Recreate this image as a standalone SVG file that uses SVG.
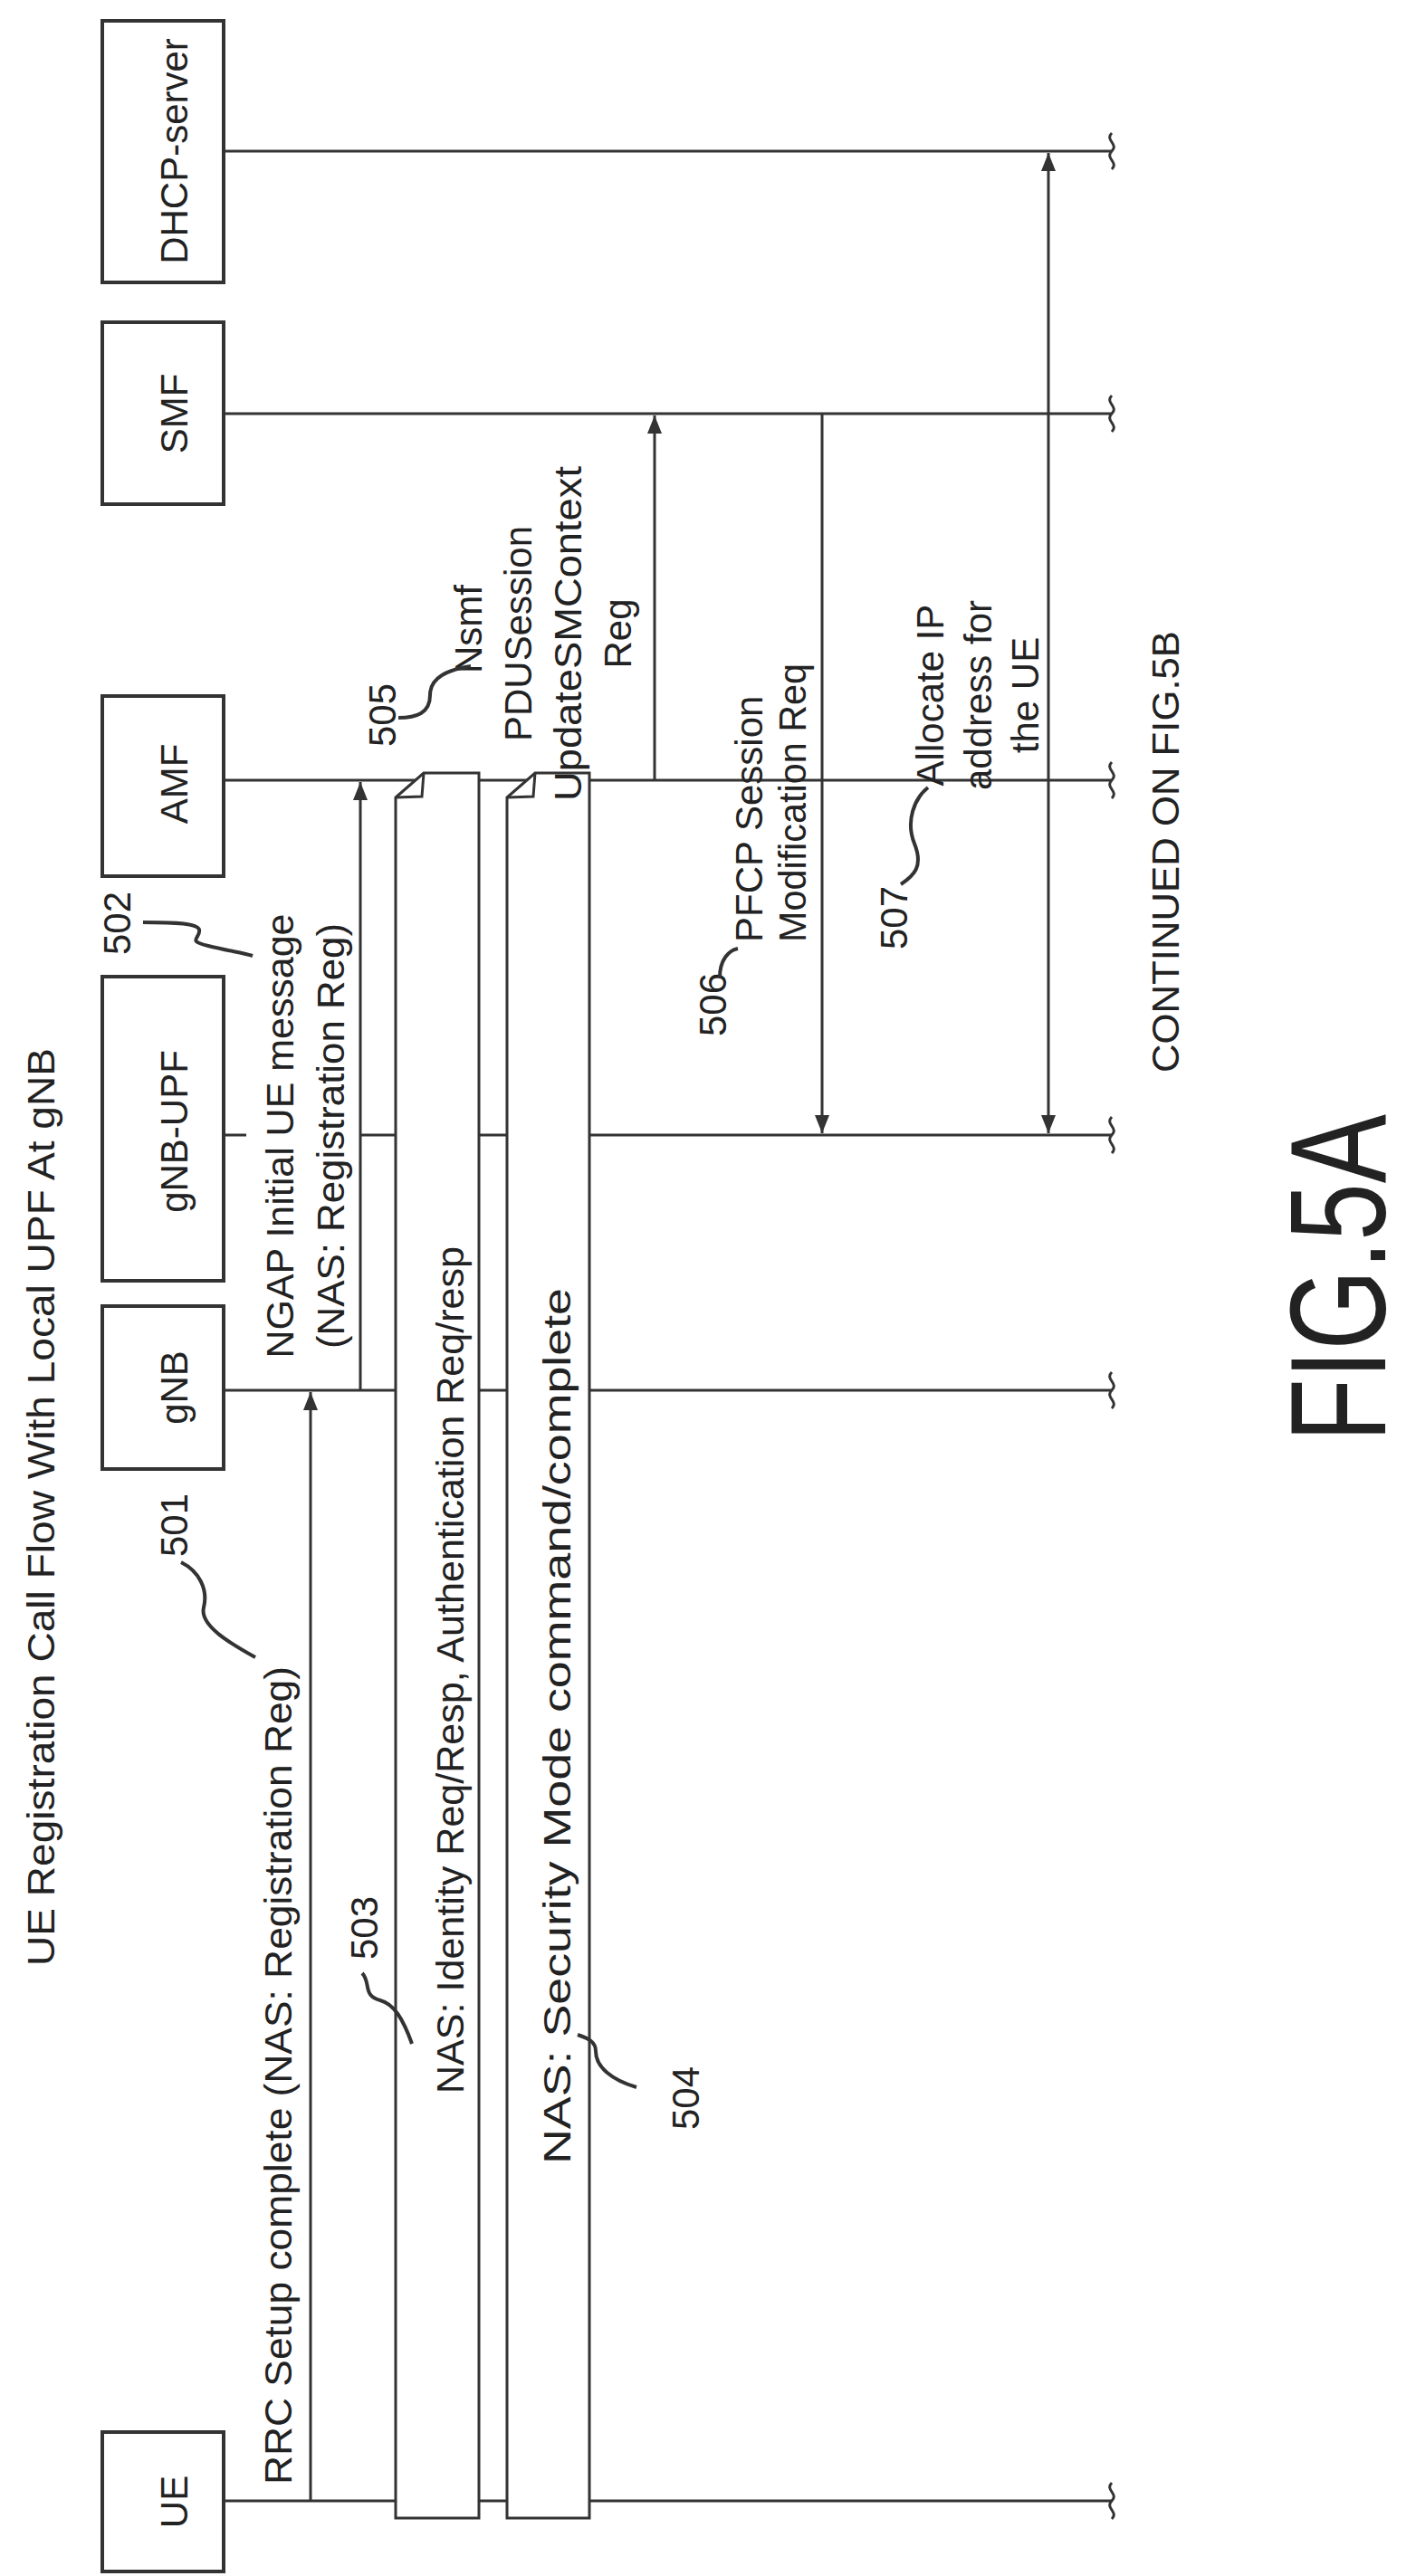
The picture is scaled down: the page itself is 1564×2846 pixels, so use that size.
<svg xmlns="http://www.w3.org/2000/svg" width="1564" height="2846" viewBox="0 0 1564 2846">
<style>
text{font-family:"Liberation Sans",Arial,sans-serif;fill:#222;font-size:42px}
.box{fill:#fff;stroke:#333;stroke-width:4}
.ln{stroke:#333;stroke-width:3;fill:none}
.lead{stroke:#333;stroke-width:4;fill:none}
.bar{fill:#fff;stroke:#333;stroke-width:3}
</style>
<defs>
<marker id="ah" viewBox="0 0 20 16" refX="20" refY="8" markerWidth="20" markerHeight="16" markerUnits="userSpaceOnUse" orient="auto-start-reverse"><path d="M0,0 L20,8 L0,16 Z" fill="#333"/></marker>
</defs>
<rect width="1564" height="2846" fill="#fff"/>
<text transform="translate(60,2172) rotate(-90)" textLength="1014" lengthAdjust="spacingAndGlyphs">UE Registration Call Flow With Local UPF At gNB</text>
<g id="lifelines">
<path class="ln" d="M247,167H1228M247,457H1228M247,862H1228M247,1254H272M398,1254H1228M247,1536H1228M247,2763H1228"/>
<path class="ln" d="M1228,147c-8,8 8,12 0,20c-8,8 8,12 0,20M1228,437c-8,8 8,12 0,20c-8,8 8,12 0,20M1228,842c-8,8 8,12 0,20c-8,8 8,12 0,20M1228,1234c-8,8 8,12 0,20c-8,8 8,12 0,20M1228,1516c-8,8 8,12 0,20c-8,8 8,12 0,20M1228,2743c-8,8 8,12 0,20c-8,8 8,12 0,20"/>
</g>
<g id="DHCP"><rect class="box" x="113" y="23" width="134" height="289"/><text transform="translate(207,167) rotate(-90)" text-anchor="middle">DHCP-server</text></g>
<g id="SMF"><rect class="box" x="113" y="356" width="134" height="201"/><text transform="translate(207,457) rotate(-90)" text-anchor="middle">SMF</text></g>
<g id="AMF"><rect class="box" x="113" y="769" width="134" height="199"/><text transform="translate(207,866) rotate(-90)" text-anchor="middle">AMF</text></g>
<g id="gNB-UPF"><rect class="box" x="113" y="1079" width="134" height="336"/><text transform="translate(207,1250) rotate(-90)" text-anchor="middle">gNB-UPF</text></g>
<g id="gNB"><rect class="box" x="113" y="1443" width="134" height="180"/><text transform="translate(207,1533) rotate(-90)" text-anchor="middle">gNB</text></g>
<g id="UE"><rect class="box" x="113" y="2687" width="134" height="154"/><text transform="translate(207,2764) rotate(-90)" text-anchor="middle">UE</text></g>
<g id="connectors">
<path class="ln" d="M343,2763V1538" marker-end="url(#ah)"/>
<path class="ln" d="M398,1536V864" marker-end="url(#ah)"/>
<path class="ln" d="M723,862V459" marker-end="url(#ah)"/>
<path class="ln" d="M908,457V1252" marker-end="url(#ah)"/>
<path class="ln" d="M1158,169V1252" marker-start="url(#ah)" marker-end="url(#ah)"/>
</g>
<g id="bar503"><path class="bar" d="M468,854H529V2782H437V881Z"/><path class="ln" d="M437,881L466,880L468,854"/>
<text transform="translate(512,2313) rotate(-90)" textLength="936" lengthAdjust="spacingAndGlyphs">NAS: Identity Req/Resp, Authentication Req/resp</text></g>
<g id="bar504"><path class="bar" d="M591,854H651V2782H560V881Z"/><path class="ln" d="M560,881L589,880L591,854"/>
<text transform="translate(630,2391) rotate(-90)" textLength="968" lengthAdjust="spacingAndGlyphs">NAS: Security Mode command/complete</text></g>
<g id="labels">
<text transform="translate(322,2745) rotate(-90)" textLength="904" lengthAdjust="spacingAndGlyphs">RRC Setup complete (NAS: Registration Reg)</text>
<text transform="translate(324,1255) rotate(-90)" text-anchor="middle" textLength="491" lengthAdjust="spacingAndGlyphs">NGAP Initial UE message</text>
<text transform="translate(380,1255) rotate(-90)" text-anchor="middle" textLength="470" lengthAdjust="spacingAndGlyphs">(NAS: Registration Reg)</text>
<text transform="translate(532,695) rotate(-90)" text-anchor="middle">Nsmf</text>
<text transform="translate(587,700) rotate(-90)" text-anchor="middle">PDUSession</text>
<text transform="translate(642,700) rotate(-90)" text-anchor="middle" textLength="370" lengthAdjust="spacingAndGlyphs">UpdateSMContext</text>
<text transform="translate(697,700) rotate(-90)" text-anchor="middle">Reg</text>
<text transform="translate(842,1041) rotate(-90)">PFCP Session</text>
<text transform="translate(890,1041) rotate(-90)" textLength="308" lengthAdjust="spacingAndGlyphs">Modification Req</text>
<text transform="translate(1042,768) rotate(-90)" text-anchor="middle">Allocate IP</text>
<text transform="translate(1095,768) rotate(-90)" text-anchor="middle">address for</text>
<text transform="translate(1147,768) rotate(-90)" text-anchor="middle">the UE</text>
<text transform="translate(1302,941) rotate(-90)" text-anchor="middle" textLength="488" lengthAdjust="spacingAndGlyphs">CONTINUED ON FIG.5B</text>
<text transform="translate(1530,1412) rotate(-90)" text-anchor="middle" style="font-size:150px" textLength="362" lengthAdjust="spacingAndGlyphs">FIG.5A</text>
</g>
<g id="refs">
<text transform="translate(207,1685) rotate(-90)" text-anchor="middle">501</text>
<path class="lead" d="M200,1726c20,10 30,30 25,50c-5,20 30,40 57,55"/>
<text transform="translate(144,1020) rotate(-90)" text-anchor="middle">502</text>
<path class="lead" d="M158,1019c25,0 60,0 62,8c2,10 -15,12 10,18c20,5 40,8 49,11"/>
<text transform="translate(417,2130) rotate(-90)" text-anchor="middle">503</text>
<path class="lead" d="M400,2180c10,10 0,25 20,30c15,4 25,20 35,48"/>
<text transform="translate(772,2318) rotate(-90)" text-anchor="middle">504</text>
<path class="lead" d="M638,2248c12,4 20,8 20,18c0,18 18,32 45,40"/>
<text transform="translate(437,790) rotate(-90)" text-anchor="middle">505</text>
<path class="lead" d="M440,793c20,0 35,-5 35,-25c0,-20 20,-28 45,-32"/>
<text transform="translate(802,1110) rotate(-90)" text-anchor="middle">506</text>
<path class="lead" d="M795,1080c0,-20 10,-30 20,-32"/>
<text transform="translate(1002,1014) rotate(-90)" text-anchor="middle">507</text>
<path class="lead" d="M995,977c15,-10 25,-20 15,-45c-10,-25 0,-50 15,-62"/>
</g>
</svg>
